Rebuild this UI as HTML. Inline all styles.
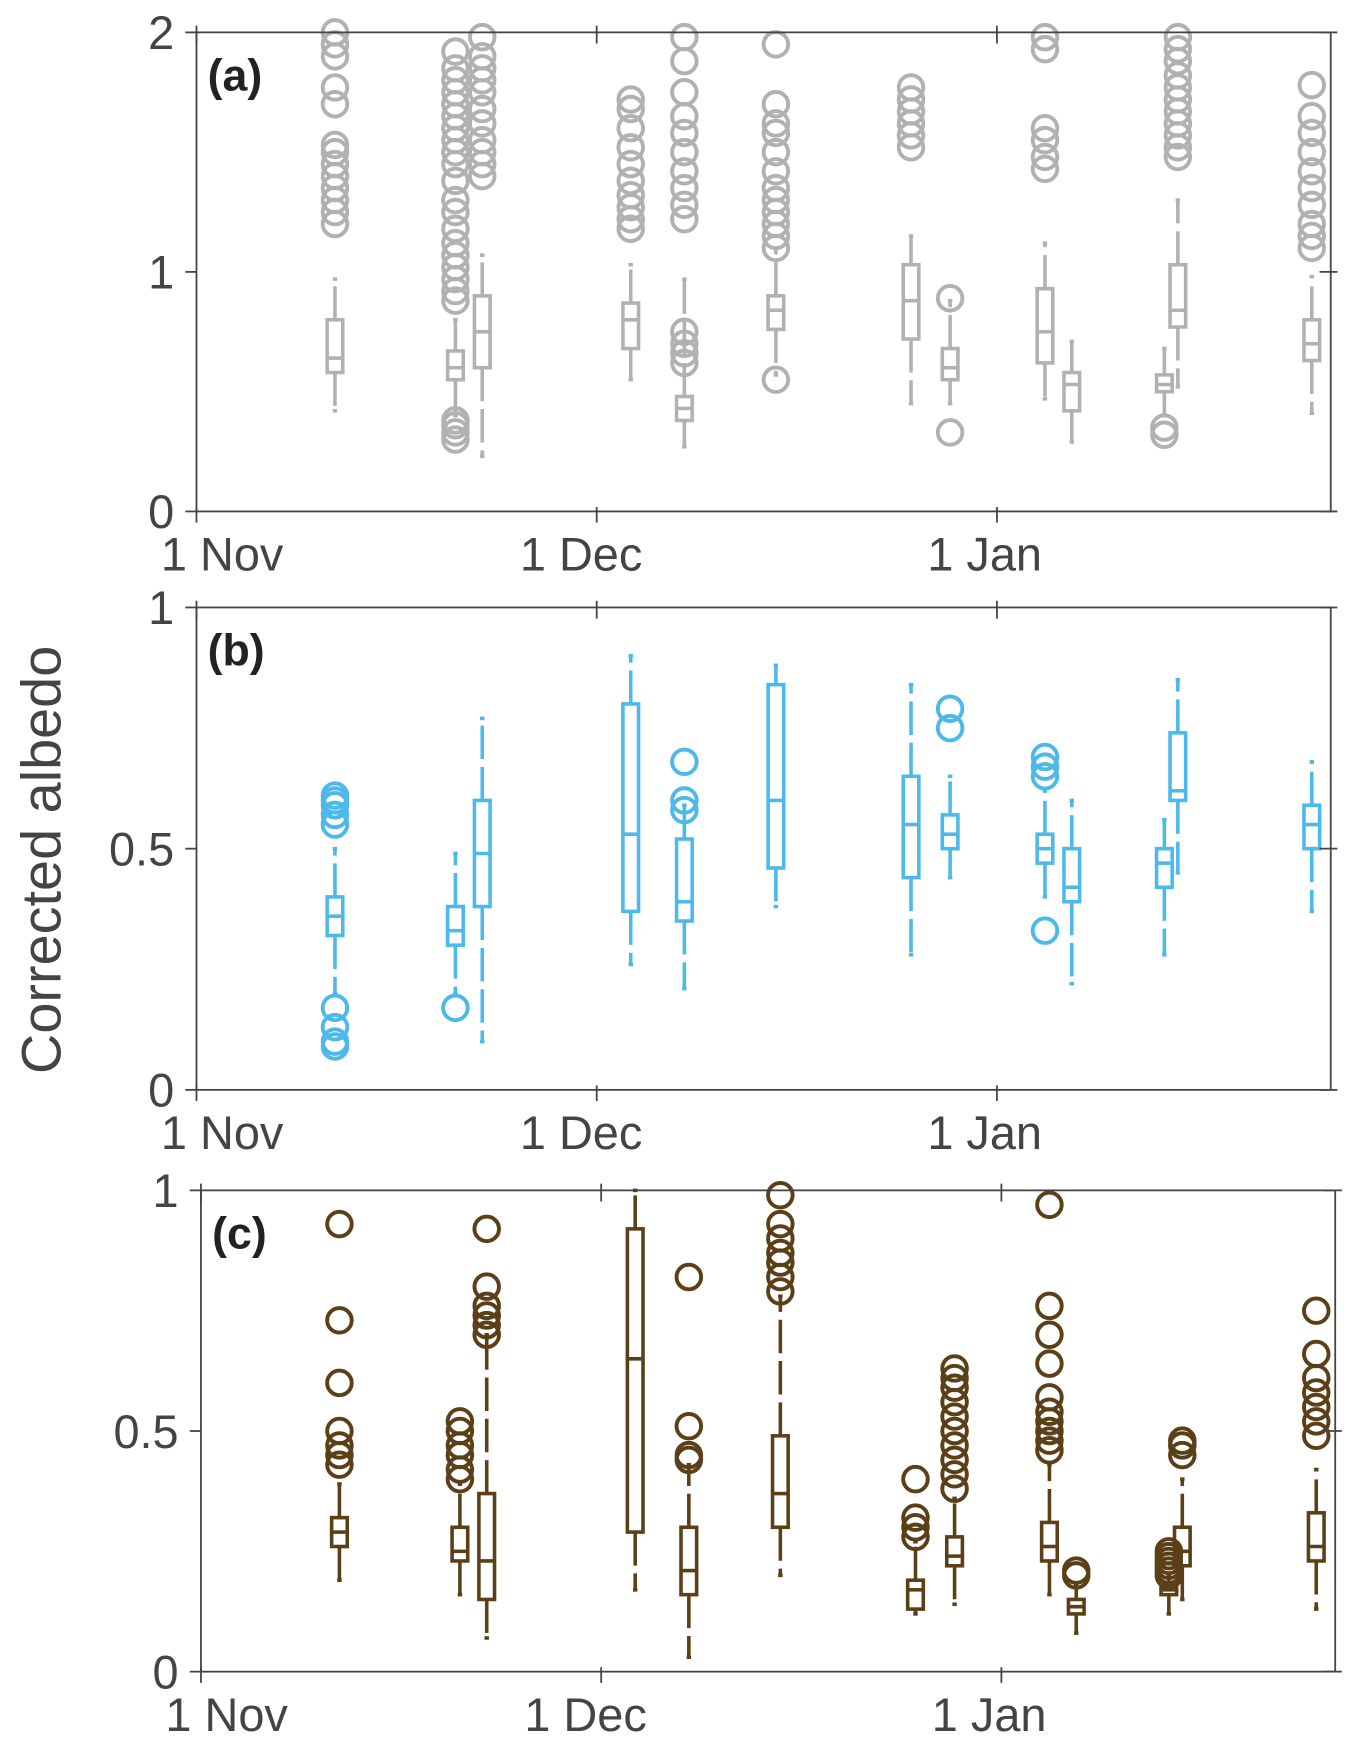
<!DOCTYPE html>
<html><head><meta charset="utf-8"><style>
html,body{margin:0;padding:0;background:#fff}
svg{display:block}
text{font-family:"Liberation Sans",sans-serif}
</style></head><body>
<svg id="fig" width="1362" height="1742" viewBox="0 0 1220 1560" preserveAspectRatio="none" xmlns="http://www.w3.org/2000/svg">
<text x="0" y="0" transform="translate(54,770) rotate(-90)" text-anchor="middle" font-size="50" fill="#444">Corrected albedo</text>
</svg>
<script>
// day positions of each box group
const days = [10.38, 19.41, 21.42, 32.55, 36.57, 43.43, 53.56, 56.49, 63.6, 65.61, 72.55, 73.56, 83.6];
// panel a: [whiskerLow, q1, median, q3, whiskerHigh]
const statsA = [[0.42,0.58,0.64,0.8,0.97],[0.4,0.55,0.6,0.67,0.8],[0.23,0.6,0.75,0.9,1.07],[0.55,0.68,0.8,0.87,1.03],[0.27,0.38,0.43,0.48,0.97],[0.57,0.76,0.84,0.9,1.1],[0.45,0.72,0.88,1.03,1.15],[0.45,0.55,0.6,0.68,0.88],[0.47,0.62,0.75,0.93,1.12],[0.29,0.42,0.53,0.58,0.71],[0.4,0.5,0.53,0.57,0.68],[0.52,0.77,0.84,1.03,1.3],[0.41,0.63,0.7,0.8,0.98]];
const outA = [[1.2,1.25,1.3,1.35,1.4,1.45,1.5,1.53,1.7,1.77,1.9,1.95,2.0],[0.3,0.33,0.36,0.38,0.88,0.92,0.97,1.02,1.07,1.12,1.18,1.25,1.3,1.38,1.45,1.5,1.55,1.6,1.65,1.7,1.75,1.8,1.85,1.92],[1.4,1.45,1.5,1.55,1.62,1.68,1.75,1.8,1.85,1.9,1.98],[1.18,1.22,1.27,1.32,1.38,1.45,1.52,1.6,1.68,1.72],[0.62,0.66,0.7,0.75,1.22,1.28,1.35,1.42,1.5,1.58,1.65,1.75,1.88,1.98],[0.55,1.1,1.15,1.2,1.25,1.3,1.35,1.42,1.5,1.58,1.62,1.7,1.95],[1.52,1.57,1.62,1.67,1.72,1.77],[0.33,0.89],[1.43,1.48,1.55,1.6,1.93,1.98],[],[0.32,0.35],[1.48,1.52,1.57,1.62,1.67,1.72,1.77,1.82,1.88,1.93,1.98],[1.1,1.15,1.2,1.28,1.35,1.42,1.5,1.58,1.65,1.78]];
// panel b
const statsB = [[0.2,0.32,0.36,0.4,0.5],[0.2,0.3,0.33,0.38,0.49],[0.1,0.38,0.49,0.6,0.77],[0.26,0.37,0.53,0.8,0.9],[0.21,0.35,0.39,0.52,0.59],[0.38,0.46,0.6,0.84,0.88],[0.28,0.44,0.55,0.65,0.84],[0.44,0.5,0.53,0.57,0.65],[0.4,0.47,0.5,0.53,0.62],[0.22,0.39,0.42,0.5,0.6],[0.28,0.42,0.47,0.5,0.56],[0.45,0.6,0.62,0.74,0.85],[0.37,0.5,0.55,0.59,0.68]];
const outB = [[0.09,0.1,0.13,0.17,0.55,0.57,0.59,0.6,0.61],[0.17],[],[],[0.58,0.6,0.68],[],[],[0.75,0.79],[0.33,0.65,0.67,0.69],[],[],[],[]];
// panel c
const statsC = [[0.19,0.26,0.29,0.32,0.39],[0.16,0.23,0.25,0.3,0.39],[0.07,0.15,0.23,0.37,0.7],[0.17,0.29,0.65,0.92,1.0],[0.03,0.16,0.21,0.3,0.43],[0.2,0.3,0.37,0.49,0.78],[0.12,0.13,0.17,0.19,0.27],[0.14,0.22,0.24,0.28,0.36],[0.16,0.23,0.26,0.31,0.43],[0.08,0.12,0.135,0.15,0.18],[0.12,0.16,0.17,0.18,0.2],[0.15,0.22,0.25,0.3,0.4],[0.13,0.23,0.26,0.33,0.42]];
const outC = [[0.43,0.45,0.47,0.5,0.6,0.73,0.93],[0.4,0.42,0.45,0.47,0.5,0.52],[0.7,0.72,0.74,0.76,0.8,0.92],[],[0.44,0.45,0.51,0.82],[0.79,0.82,0.85,0.87,0.9,0.93,0.99],[0.28,0.3,0.32,0.4],[0.38,0.41,0.44,0.47,0.5,0.53,0.56,0.59,0.61,0.63],[0.46,0.48,0.5,0.52,0.54,0.57,0.64,0.7,0.76,0.97],[0.2,0.21],[0.2,0.21,0.22,0.23,0.24,0.25],[0.45,0.47,0.48],[0.49,0.52,0.55,0.58,0.61,0.66,0.75]];
const xTickDays = [0, 30, 60];
const xTickLabels = ["1 Nov", "1 Dec", "1 Jan"];

const NS = "http://www.w3.org/2000/svg";
const svg = document.getElementById("fig");
function mk(tag, attrs, parent){const e=document.createElementNS(NS,tag);for(const k in attrs)e.setAttribute(k,attrs[k]);(parent||svg).appendChild(e);return e;}
const labelShift = [23, -14, -11];

const panels = [
 {key:"a", L:176,R:1192,T:29,B:458, ymax:2, yticks:[0,1,2], ylabels:["0","1","2"], color:"#b1b1b3", stats:statsA, outs:outA},
 {key:"b", L:176,R:1192,T:544,B:976, ymax:1, yticks:[0,0.5,1], ylabels:["0","0.5","1"], color:"#4cb9ea", stats:statsB, outs:outB},
 {key:"c", L:180,R:1196,T:1066,B:1497, ymax:1, yticks:[0,0.5,1], ylabels:["0","0.5","1"], color:"#5b3f17", stats:statsC, outs:outC}
];
const pxPerDay = 11.95;

panels.forEach(p=>{
 const g = mk("g",{});
 
 
 const xs = d => p.L + d*pxPerDay;
 const ys = v => p.B - v/p.ymax*(p.B-p.T);
 p.stats.forEach((s,i)=>{
  const bg = mk("g",{fill:"none",stroke:p.color,"stroke-width":3.2},g);
  
  
  const x = xs(days[i]), w=7;
  mk("line",{x1:x,x2:x,y1:ys(s[1]),y2:ys(s[0]),"stroke-dasharray":"30 7"},bg);
  mk("line",{x1:x,x2:x,y1:ys(s[3]),y2:ys(s[4]),"stroke-dasharray":"30 7"},bg);
  mk("line",{x1:x-2,x2:x+2,y1:ys(s[0]),y2:ys(s[0])},bg);
  mk("line",{x1:x-2,x2:x+2,y1:ys(s[4]),y2:ys(s[4])},bg);
  mk("rect",{x:x-w,y:ys(s[3]),width:2*w,height:ys(s[1])-ys(s[3])},bg);
  mk("line",{x1:x-w,x2:x+w,y1:ys(s[2]),y2:ys(s[2])},bg);
  p.outs[i].forEach(v=>{
   const c = mk("circle",{cx:x,cy:ys(v),r:11,"stroke-width":3.5},bg);
   
   
  });
 });
 const ax = mk("g",{stroke:"#444","stroke-width":1.6,fill:"none"},g);
 
 
 mk("rect",{x:p.L,y:p.T,width:p.R-p.L,height:p.B-p.T},ax);
 p.yticks.forEach((v,j)=>{
  const y=ys(v);
  mk("line",{x1:p.L-10,x2:p.L,y1:y,y2:y},ax);
  mk("line",{x1:p.R-10,x2:p.R+6,y1:y,y2:y},ax);
  const t = mk("text",{x:p.L-20,y:y+15,"text-anchor":"end","font-size":42,fill:"#444",stroke:"none"},g);
  t.textContent = p.ylabels[j];
  
  
 });
 xTickDays.forEach((d,j)=>{
  const x=xs(d);
  mk("line",{x1:x,x2:x,y1:p.B-4,y2:p.B+10},ax);
  mk("line",{x1:x,x2:x,y1:p.T-6,y2:p.T+10},ax);
  const t = mk("text",{x:x+labelShift[j],y:p.B+53,"text-anchor":"middle","font-size":42,fill:"#444",stroke:"none"},g);
  t.textContent = xTickLabels[j];
  
  
 });
 const lab = mk("text",{x:p.L+10,y:p.T+52,"font-size":40,"font-weight":"bold",fill:"#222"},g);
 lab.textContent = "("+p.key+")";
 
 
});
</script>
</body></html>
